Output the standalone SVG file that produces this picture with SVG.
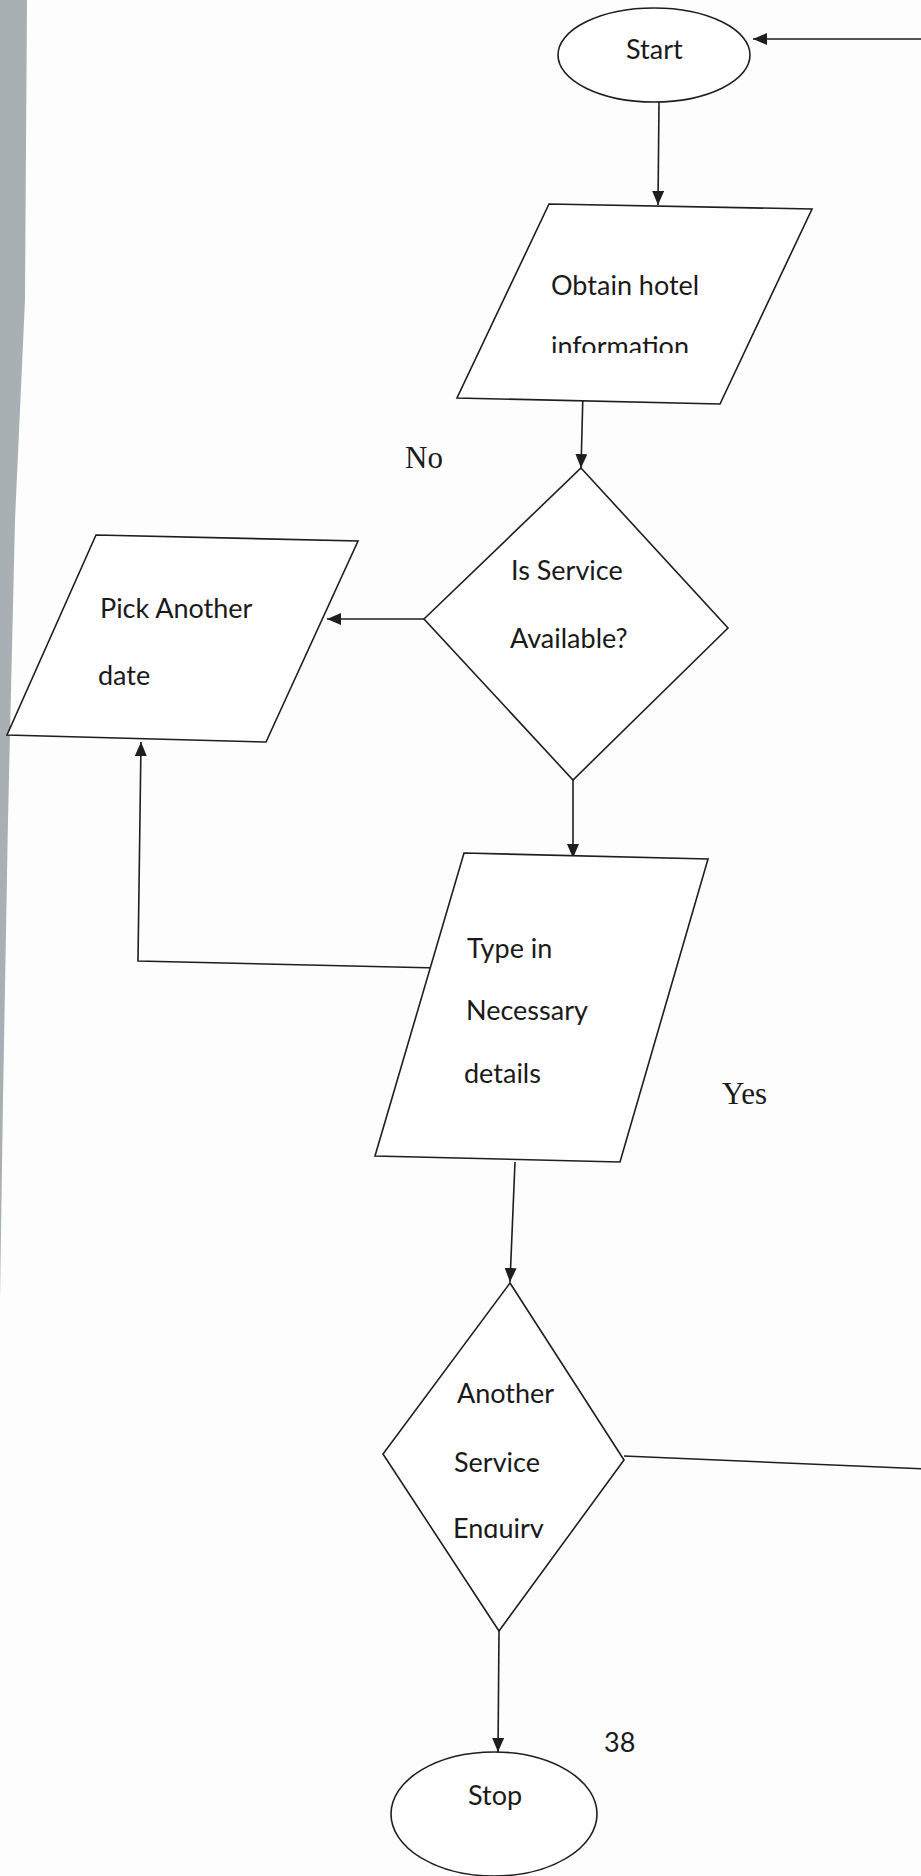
<svg xmlns="http://www.w3.org/2000/svg" width="921" height="1876" viewBox="0 0 921 1876">
<style>
.shape{fill:#fff;stroke:#1e1e1e;stroke-width:1.6}
.conn{fill:none;stroke:#1e1e1e;stroke-width:1.6}
.lbl{font-family:Lato,"Open Sans",sans-serif;font-size:27px;fill:#1a1a1a}
.yn{font-family:"Liberation Serif",serif;font-size:31px;fill:#1a1a1a}
</style>
<defs>
<marker id="arr" viewBox="0 0 14 12" refX="14" refY="6" markerWidth="14" markerHeight="12" markerUnits="userSpaceOnUse" orient="auto">
<path d="M0,0 L14,6 L0,12 z" fill="#1e1e1e"/>
</marker>
<clipPath id="clipObtain"><rect x="440" y="200" width="380" height="153"/></clipPath>
<clipPath id="clipEnq"><rect x="380" y="1280" width="250" height="258"/></clipPath>
</defs>
<rect x="0" y="0" width="921" height="1876" fill="#fdfdfd"/>
<polygon points="0,0 27,0 25,300 15,520 8,820 3,1100 0,1300" fill="#a9b0b3"/>

<g id="connectors">
<path class="conn" d="M659,102 L658,205" marker-end="url(#arr)"/>
<path class="conn" d="M583,392 L581,468" marker-end="url(#arr)"/>
<path class="conn" d="M424,619 L327,619" marker-end="url(#arr)"/>
<path class="conn" d="M573,780 L573,858" marker-end="url(#arr)"/>
<path class="conn" d="M438,968 L138,961 L141,742" marker-end="url(#arr)"/>
<path class="conn" d="M515,1162 L510,1282" marker-end="url(#arr)"/>
<path class="conn" d="M499,1631 L498,1752" marker-end="url(#arr)"/>
<path class="conn" d="M624,1456 L926,1469 L926,39 L753,39" marker-end="url(#arr)"/>
</g>

<g id="start">
<ellipse class="shape" cx="654" cy="55" rx="96" ry="47"/>
<text class="lbl" x="626" y="59">Start</text>
</g>

<g id="obtain">
<polygon class="shape" points="549,204 812,209 720,404 457,398"/>
<g clip-path="url(#clipObtain)">
<text class="lbl" x="551" y="295">Obtain hotel</text>
<text class="lbl" x="551" y="356">information</text>
</g>
</g>

<g id="service-available">
<polygon class="shape" points="581,468 728,628 573,780 424,619"/>
<text class="lbl" x="511" y="580">Is Service</text>
<text class="lbl" x="510" y="648">Available?</text>
</g>

<g id="pick-date">
<polygon class="shape" points="96,535 358,541 266,742 7,735"/>
<text class="lbl" x="100" y="618">Pick Another</text>
<text class="lbl" x="98" y="685">date</text>
</g>

<g id="type-details">
<polygon class="shape" points="464,853 708,859 620,1162 375,1156"/>
<text class="lbl" x="467" y="958">Type in</text>
<text class="lbl" x="466" y="1020">Necessary</text>
<text class="lbl" x="464" y="1083">details</text>
</g>

<g id="another-enquiry">
<polygon class="shape" points="510,1283 624,1460 499,1631 383,1454"/>
<text class="lbl" x="457" y="1403">Another</text>
<text class="lbl" x="454" y="1472">Service</text>
<g clip-path="url(#clipEnq)">
<text class="lbl" x="453" y="1538">Enquiry</text>
</g>
</g>

<g id="stop">
<ellipse class="shape" cx="494" cy="1814" rx="103" ry="62"/>
<text class="lbl" x="468" y="1805">Stop</text>
</g>

<g id="labels">
<text class="yn" x="405" y="468">No</text>
<text class="yn" x="722" y="1104">Yes</text>
<text class="lbl" x="604" y="1752">38</text>
</g>
</svg>
